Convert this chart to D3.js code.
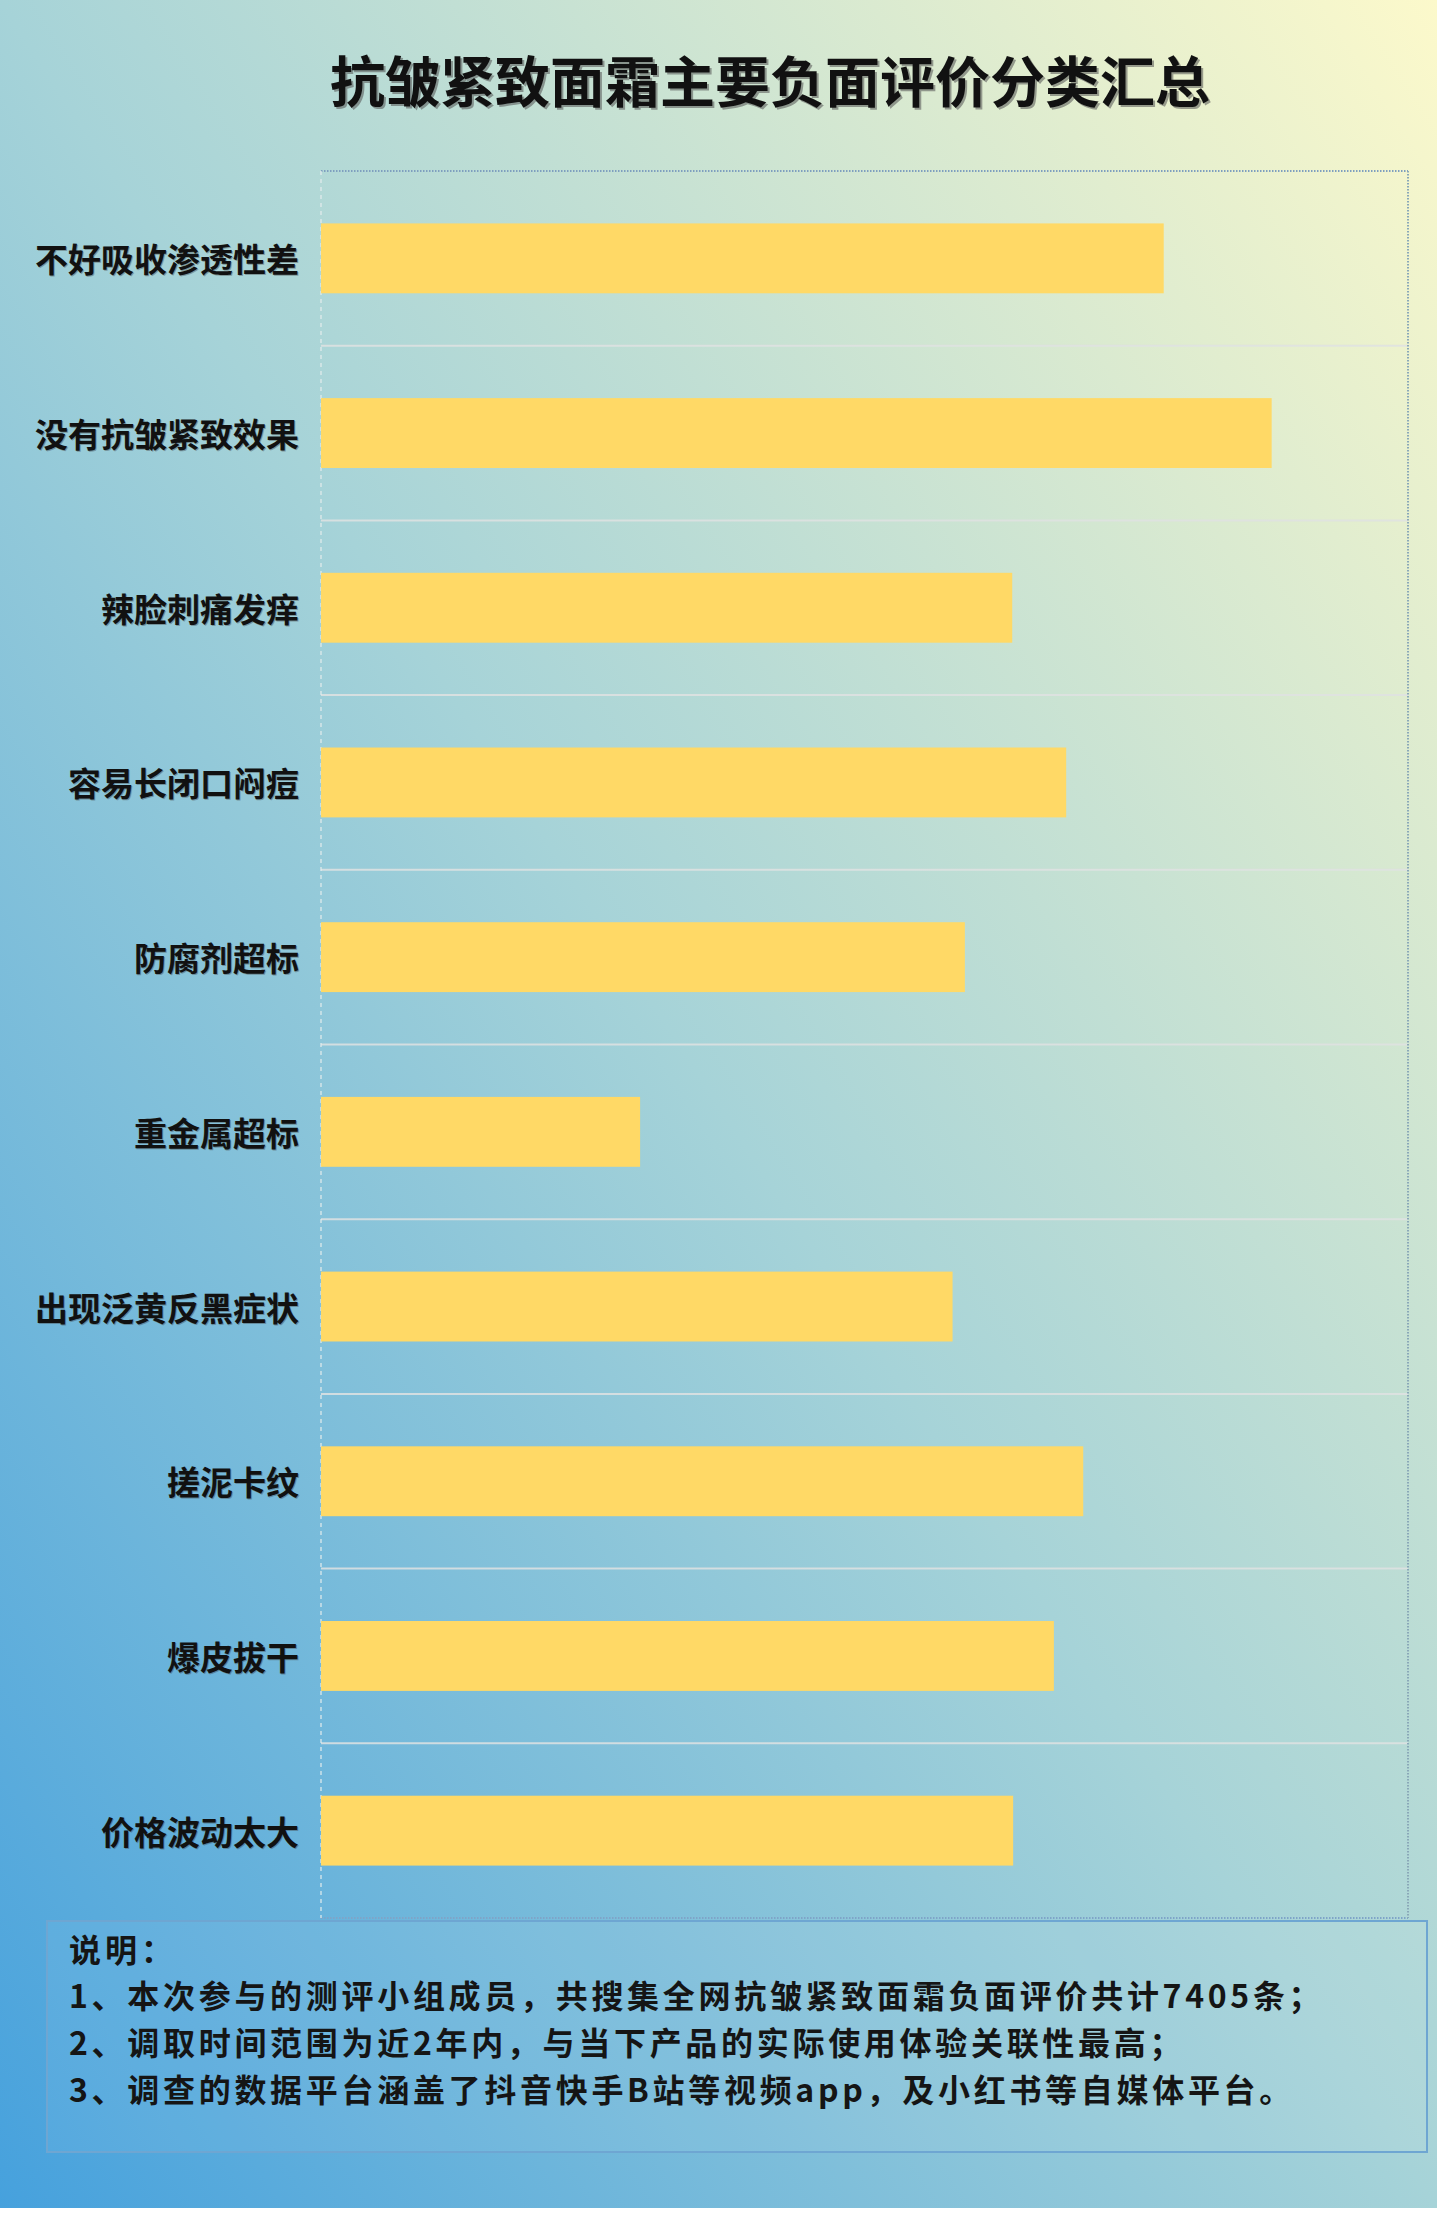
<!DOCTYPE html>
<html><head><meta charset="utf-8">
<script src="https://cdn.jsdelivr.net/npm/d3@7"></script>
<style>body{margin:0;background:#fff}svg{display:block}</style>
</head><body>
<svg id="chart" width="1440" height="2228"></svg>
<script>
const title = "抗皱紧致面霜主要负面评价分类汇总";
const categories = ["不好吸收渗透性差","没有抗皱紧致效果","辣脸刺痛发痒","容易长闭口闷痘","防腐剂超标","重金属超标","出现泛黄反黑症状","搓泥卡纹","爆皮拔干","价格波动太大"];
const values = [890,1004,730,787,680,337,667,805,774,731];
const xMax = 1148;
const notes = ["说明：","1、本次参与的测评小组成员，共搜集全网抗皱紧致面霜负面评价共计7405条；","2、调取时间范围为近2年内，与当下产品的实际使用体验关联性最高；","3、调查的数据平台涵盖了抖音快手B站等视频app，及小红书等自媒体平台。"];

const FONT = "'Noto Sans CJK SC','Noto Sans',sans-serif";
const svg = d3.select("#chart");
const defs = svg.append("defs");
const g1 = defs.append("linearGradient").attr("id","bg").attr("x1",0).attr("y1",1).attr("x2",1).attr("y2",0);
g1.append("stop").attr("offset","0").attr("stop-color","#46a1dd");
g1.append("stop").attr("offset","0.5").attr("stop-color","#a6d3d8");
g1.append("stop").attr("offset","1").attr("stop-color","#fcf9cb");

svg.append("rect").attr("x",0).attr("y",0).attr("width",1437).attr("height",2208).attr("fill","url(#bg)");

// title with shadow
svg.append("text").attr("x",772).attr("y",80).attr("text-anchor","middle").attr("dominant-baseline","central")
  .attr("font-family",FONT).attr("font-weight",700).attr("font-size",55).attr("fill","#555").attr("opacity",0.55).text(title);
svg.append("text").attr("x",770).attr("y",78).attr("text-anchor","middle").attr("dominant-baseline","central")
  .attr("font-family",FONT).attr("font-weight",700).attr("font-size",55).attr("fill","#111").text(title);

const plot = {left:321, right:1408, top:171, bottom:1918};
const x = d3.scaleLinear().domain([0,xMax]).range([plot.left, plot.right]);
const y = d3.scaleBand().domain(categories).range([plot.top, plot.bottom]).paddingInner(0.6).paddingOuter(0.3);

// separators
const step = y.step();
svg.append("g").selectAll("line").data(categories.slice(1)).join("line")
  .attr("x1",plot.left).attr("x2",plot.right)
  .attr("y1",d=>y(d)-0.3*step).attr("y2",d=>y(d)-0.3*step)
  .attr("stroke","#dfe2e2").attr("stroke-opacity",0.85).attr("stroke-width",2);

// plot border
svg.append("line").attr("x1",plot.left).attr("x2",plot.right).attr("y1",plot.top).attr("y2",plot.top)
  .attr("stroke","#7f9fbf").attr("stroke-width",2).attr("stroke-dasharray","1.5,1.5");
svg.append("line").attr("x1",plot.left).attr("x2",plot.right).attr("y1",plot.bottom).attr("y2",plot.bottom)
  .attr("stroke","#7fa4c8").attr("stroke-width",2).attr("stroke-dasharray","1.5,1.5");
svg.append("line").attr("x1",plot.right).attr("x2",plot.right).attr("y1",plot.top).attr("y2",plot.bottom)
  .attr("stroke","#8aa8b8").attr("stroke-width",2).attr("stroke-dasharray","1.5,1.5");
svg.append("line").attr("x1",plot.left).attr("x2",plot.left).attr("y1",plot.top).attr("y2",plot.bottom)
  .attr("stroke","#e4ecec").attr("stroke-opacity",0.8).attr("stroke-width",1.5).attr("stroke-dasharray","4,4");

// bars
svg.append("g").selectAll("rect").data(categories).join("rect")
  .attr("x",x(0)).attr("y",d=>y(d)).attr("height",y.bandwidth())
  .attr("width",(d,i)=>x(values[i])-x(0)).attr("fill","#ffd966");

// labels
const lab = svg.append("g");
lab.selectAll("text.sh").data(categories).join("text").attr("class","sh")
  .attr("x",300).attr("y",d=>y(d)+y.bandwidth()/2+1).attr("text-anchor","end").attr("dominant-baseline","central")
  .attr("font-family",FONT).attr("font-weight",700).attr("font-size",33).attr("fill","#444").attr("opacity",0.4).text(d=>d);
lab.selectAll("text.lb").data(categories).join("text").attr("class","lb")
  .attr("x",299).attr("y",d=>y(d)+y.bandwidth()/2).attr("text-anchor","end").attr("dominant-baseline","central")
  .attr("font-family",FONT).attr("font-weight",700).attr("font-size",33).attr("fill","#111").text(d=>d);

// notes box
svg.append("rect").attr("x",47).attr("y",1921).attr("width",1380).attr("height",231)
  .attr("fill","#ffffff").attr("fill-opacity",0.06).attr("stroke","#6ea6d2").attr("stroke-width",2);
const noteY = [1948,1994,2041,2088];
svg.append("g").selectAll("text").data(notes).join("text")
  .attr("x",69).attr("y",(d,i)=>noteY[i]).attr("dominant-baseline","central")
  .attr("font-family",FONT).attr("font-weight",700).attr("font-size",32)
  .attr("letter-spacing",(d,i)=>i===0?4:3.7).attr("fill","#151515").text(d=>d);
</script>
</body></html>
